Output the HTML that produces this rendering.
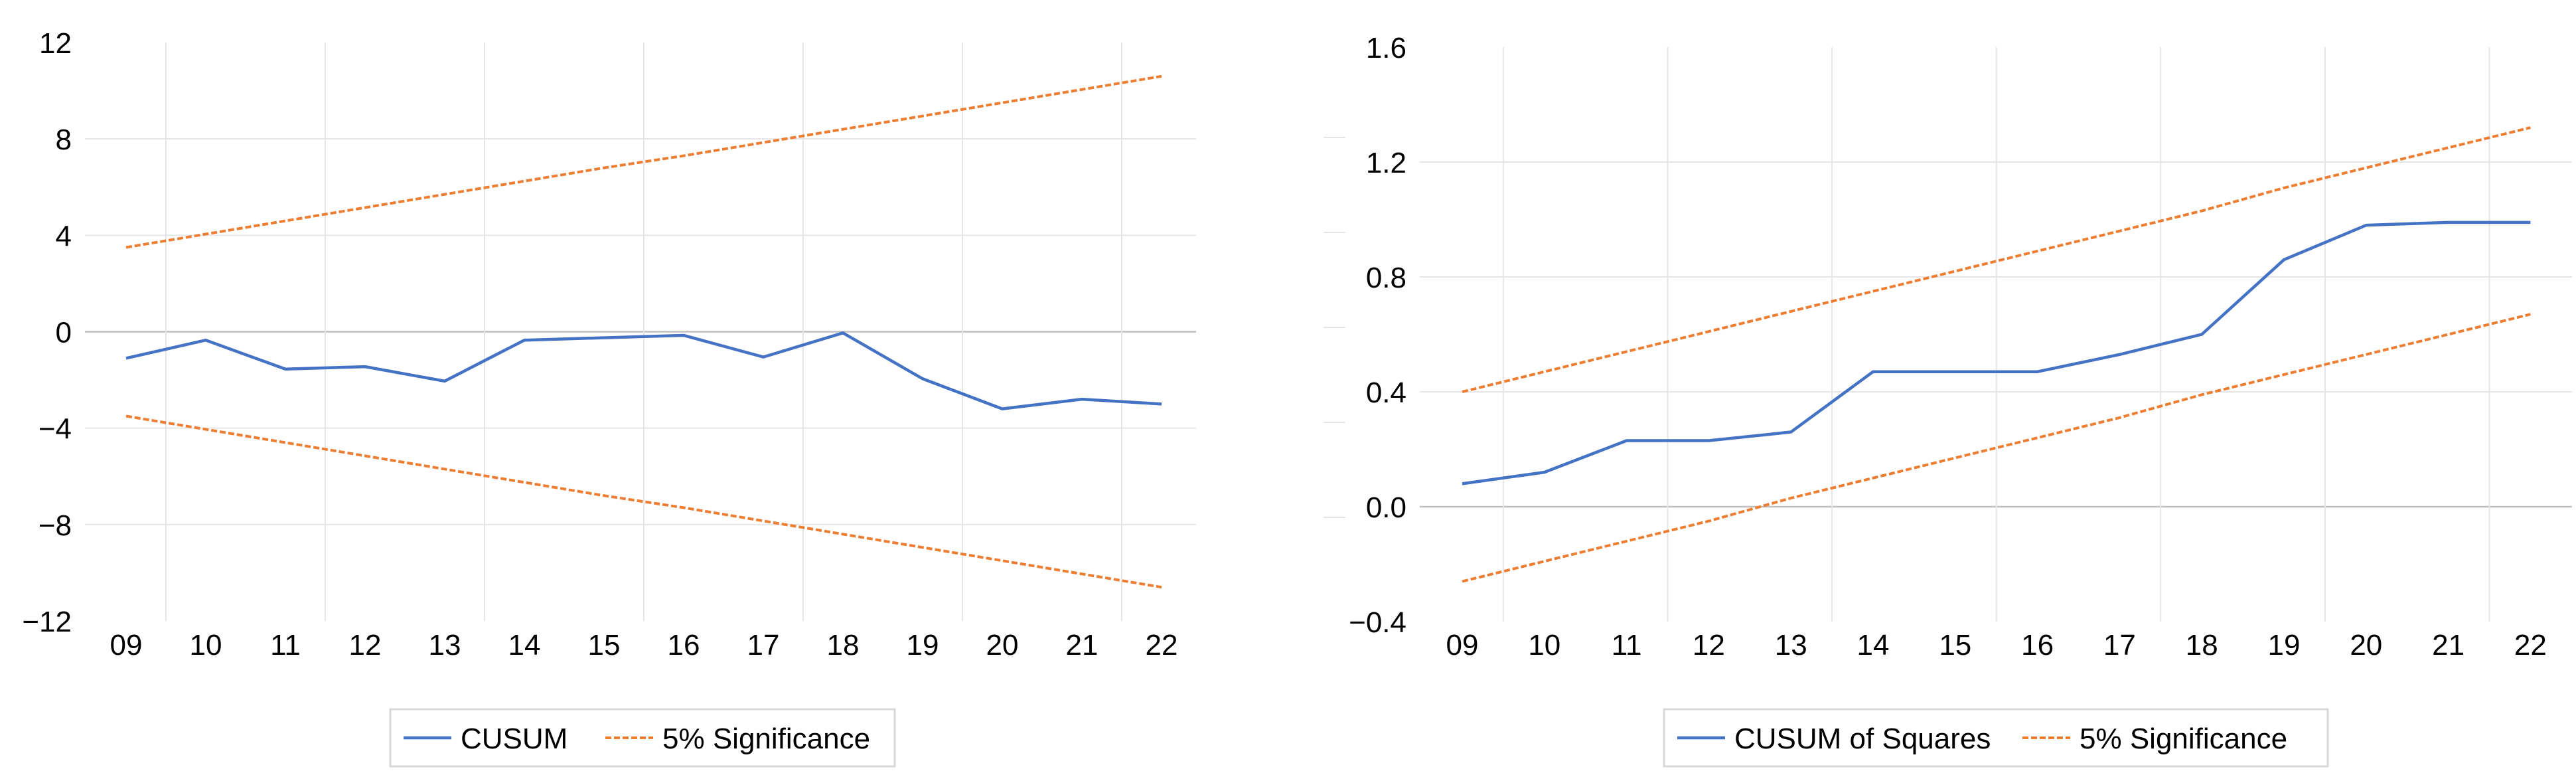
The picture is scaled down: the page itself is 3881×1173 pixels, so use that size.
<!DOCTYPE html>
<html><head><meta charset="utf-8"><style>
html,body{margin:0;padding:0;background:#fff;}
svg{display:block;font-family:"Liberation Sans Narrow","Liberation Sans",sans-serif;}
text{fill:#000;font-size:44px;}
</style></head><body>
<svg id="c" width="3881" height="1173" viewBox="0 0 3881 1173"></svg>
<script>
const categories=["09","10","11","12","13","14","15","16","17","18","19","20","21","22"];
const cusum=[-1.1,-0.35,-1.55,-1.45,-2.05,-0.35,-0.25,-0.15,-1.05,-0.05,-1.95,-3.2,-2.8,-3.0];
const cusumUpper=[3.5,4.05,4.6,5.15,5.7,6.25,6.8,7.3,7.85,8.4,8.95,9.5,10.05,10.6];
const cusumLower=[-3.5,-4.05,-4.6,-5.15,-5.7,-6.25,-6.8,-7.3,-7.85,-8.4,-8.95,-9.5,-10.05,-10.6];
const cusumTicks=[12,8,4,0,-4,-8,-12];
const cusumTickLabels=["12","8","4","0","\u22124","\u22128","\u221212"];
const sq=[0.08,0.12,0.23,0.23,0.26,0.47,0.47,0.47,0.53,0.60,0.86,0.98,0.99,0.99];
const sqUpper=[0.40,0.47,0.54,0.61,0.68,0.75,0.82,0.89,0.96,1.03,1.11,1.18,1.25,1.32];
const sqLower=[-0.26,-0.19,-0.12,-0.05,0.03,0.10,0.17,0.24,0.31,0.39,0.46,0.53,0.60,0.67];
const sqTicks=[1.6,1.2,0.8,0.4,0.0,-0.4];
const sqTickLabels=["1.6","1.2","0.8","0.4","0.0","\u22120.4"];

const NS="http://www.w3.org/2000/svg";
const svg=document.getElementById('c');
function mk(tag,attrs,parent){const e=document.createElementNS(NS,tag);for(const k in attrs)e.setAttribute(k,attrs[k]);(parent||svg).appendChild(e);return e;}

function chart(o){
  const g=mk('g',{});
  
  
  const y=v=>o.y0+(o.max-v)/(o.max-o.min)*(o.y1-o.y0);
  const x=i=>o.x0+i*o.step;
  o.ticks.forEach((t,i)=>{
    if(t!==o.max && t!==o.min){
      const l=mk('line',{x1:o.left,x2:o.right,y1:y(t),y2:y(t),stroke:t===0?'#bfbfbf':'#e6e6e6','stroke-width':t===0?2.5:2},g);
      
      
    }
    const tx=mk('text',{x:o.labelX,y:y(t)+16,'text-anchor':'end'},g);
    tx.textContent=o.labels[i];
    
    
  });
  for(let i=0;i<categories.length;i+=2){
    const gx=x(i)+o.step/2;
    const l=mk('line',{x1:gx,x2:gx,y1:y(o.max),y2:y(o.min),stroke:'#e6e6e6','stroke-width':2},g);
    
    
  }
  categories.forEach((c,i)=>{
    const tx=mk('text',{x:x(i),y:986,'text-anchor':'middle'},g);
    tx.textContent=c;
    
    
  });
  const pts=a=>a.map((v,i)=>x(i)+','+y(v)).join(' ');
  const u=mk('polyline',{points:pts(o.upper),fill:'none',stroke:'#ed7d31','stroke-width':4,'stroke-dasharray':'9,4'},g);
  
  
  const lo=mk('polyline',{points:pts(o.lower),fill:'none',stroke:'#ed7d31','stroke-width':4,'stroke-dasharray':'9,4'},g);
  
  
  const m=mk('polyline',{points:pts(o.data),fill:'none',stroke:'#4472c4','stroke-width':4.5,'stroke-linejoin':'round'},g);
  
  
  const lg=mk('g',{},g);
  
  
  mk('rect',{x:o.lx,y:1068,width:o.lw,height:86,fill:'#fff',stroke:'#d9d9d9','stroke-width':3},lg);
  mk('line',{x1:o.lx+20,x2:o.lx+92,y1:1111,y2:1111,stroke:'#4472c4','stroke-width':4.5},lg);
  const t1=mk('text',{x:o.lx+106,y:1127},lg);t1.textContent=o.legend1;
  
  
  mk('line',{x1:o.lx2,x2:o.lx2+72,y1:1111,y2:1111,stroke:'#ed7d31','stroke-width':4,'stroke-dasharray':'9,4'},lg);
  const t2=mk('text',{x:o.lx2+86,y:1127},lg);t2.textContent='5% Significance';
  
  
}
chart({name:'cusum-chart',seriesName:'cusum-line',data:cusum,upper:cusumUpper,lower:cusumLower,ticks:cusumTicks,labels:cusumTickLabels,
  max:12,min:-12,y0:64,y1:935,x0:190,step:120,left:128,right:1802,labelX:108,lx:588,lw:760,legend1:'CUSUM',lx2:912});
chart({name:'cusum-squares-chart',seriesName:'cusum-squares-line',data:sq,upper:sqUpper,lower:sqLower,ticks:sqTicks,labels:sqTickLabels,
  max:1.6,min:-0.4,y0:71,y1:936,x0:2203,step:123.8,left:2139,right:3875,labelX:2119,lx:2507,lw:1000,legend1:'CUSUM of Squares',lx2:3047});
[207,350,493,636,779].forEach(v=>{const l=mk('line',{x1:1994,x2:2027,y1:v,y2:v,stroke:'#e6e6e6','stroke-width':2});

});
</script>
</body></html>
